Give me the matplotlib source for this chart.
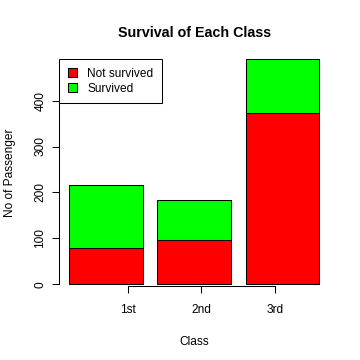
import matplotlib
matplotlib.use("Agg")
import matplotlib.pyplot as plt
import numpy as np

classes = ["1st", "2nd", "3rd"]
not_survived = [80, 97, 372]
survived = [136, 87, 119]
series_labels = ["Not survived", "Survived"]
colors = ["#FF0000", "#00FF00"]

plt.rcParams['font.family'] = ['Liberation Sans', 'DejaVu Sans']
fs = 8.6

fig = plt.figure(figsize=(3.6, 3.6), dpi=100)
ax = fig.add_axes([59.3/360, 1-286/360, (329-59.3)/360, (286-59.3)/360])

# R barplot positions: width 1, space 0.2 -> centers 0.7, 1.9, 3.1
centers = 0.7 + 1.2*np.arange(len(classes))
b1 = ax.bar(centers, not_survived, width=1.0, color=colors[0], edgecolor='black', linewidth=0.75, label=series_labels[0])
b2 = ax.bar(centers, survived, width=1.0, bottom=not_survived, color=colors[1], edgecolor='black', linewidth=0.75, label=series_labels[1])

ax.set_xlim(0.065, 3.736)
ax.set_ylim(-3.7, 490)
for b in list(b1) + list(b2):
    b.set_clip_on(False)

# axis ticks at 1,2,3 (as R axis default)
ax.set_xticks(np.arange(1, len(classes)+1))
ax.set_xticklabels(classes, fontsize=fs)
ax.set_yticks([0, 100, 200, 300, 400])
ax.set_yticklabels(['0', '100', '200', '300', '400'], fontsize=fs, rotation=90, va='center')

for s in ['top', 'right']:
    ax.spines[s].set_visible(False)
ax.spines['left'].set_bounds(0, 400)
ax.spines['bottom'].set_bounds(1, 3)
ax.spines['left'].set_linewidth(0.75)
ax.spines['bottom'].set_linewidth(0.75)
ax.tick_params(axis='both', length=5.2, width=0.75, direction='out')
ax.tick_params(axis='y', pad=4)
ax.tick_params(axis='x', pad=8)

ax.set_xlabel("Class", fontsize=fs, labelpad=14)
ax.set_ylabel("No of Passenger", fontsize=fs, labelpad=13)
ax.set_title("Survival of Each Class", fontsize=10.3, fontweight='bold', pad=16)

leg = ax.legend(loc='upper left', bbox_to_anchor=(0, 1), borderaxespad=0, fancybox=False,
                edgecolor='black', framealpha=1, fontsize=fs, handlelength=0.75, handleheight=0.75,
                handletextpad=0.9, labelspacing=0.25, borderpad=0.7)
leg.get_frame().set_linewidth(0.75)
for h in leg.legend_handles:
    h.set_edgecolor('black')

fig.savefig("out.png", dpi=100)
